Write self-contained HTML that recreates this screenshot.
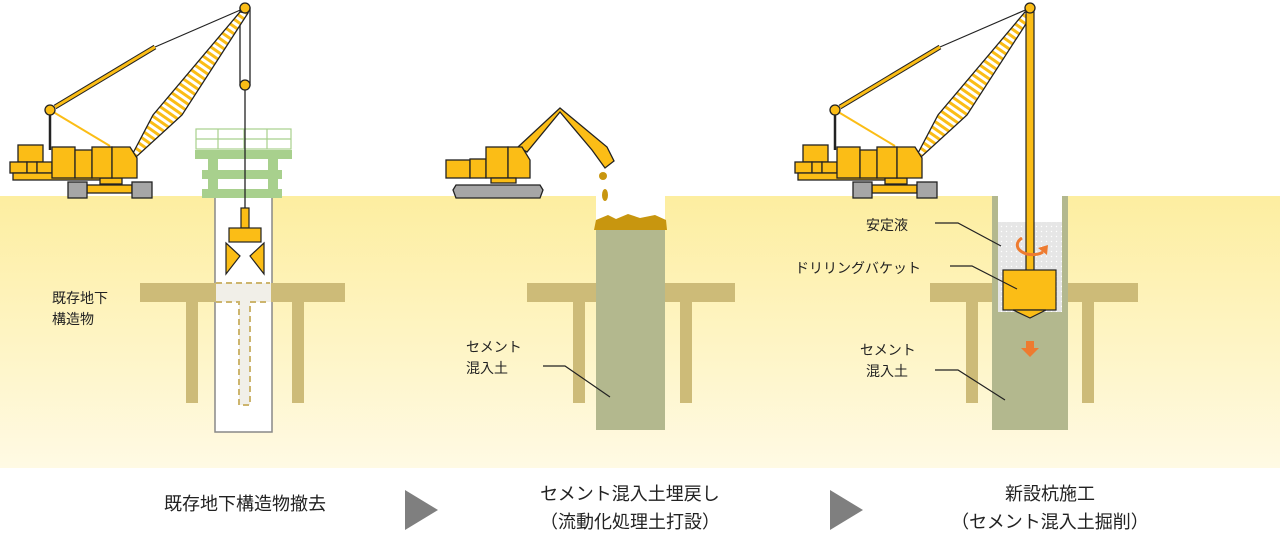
<!DOCTYPE html>
<html><head><meta charset="utf-8"><style>
html,body{margin:0;padding:0;background:#fff;width:1280px;height:546px;overflow:hidden}
svg{display:block}
text{font-family:"Liberation Sans","Noto Sans CJK JP",sans-serif;fill:#222}
</style></head><body>
<svg width="1280" height="546" viewBox="0 0 1280 546" xmlns="http://www.w3.org/2000/svg">
<defs>
<linearGradient id="gnd" x1="0" y1="0" x2="0" y2="1">
<stop offset="0" stop-color="#fdeea0"/><stop offset="1" stop-color="#fffae4"/>
</linearGradient>
<pattern id="str" width="6" height="6" patternUnits="userSpaceOnUse" patternTransform="rotate(35)">
<rect width="6" height="6" fill="#fff"/><rect width="6" height="3" fill="#fbbd16"/>
</pattern>
<pattern id="dots" width="5" height="5" patternUnits="userSpaceOnUse">
<rect width="5" height="5" fill="#e6e6e6"/><circle cx="1.5" cy="1.5" r="0.7" fill="#fff"/>
</pattern>
<g id="crane" stroke="#222" stroke-width="1.3">
<line x1="50" y1="110" x2="110" y2="146" stroke="#fbbd16" stroke-width="2"/>
<line x1="50" y1="110" x2="50" y2="150" stroke-width="2.5"/>
<line x1="155" y1="47" x2="245" y2="8" stroke-width="1.2"/>
<line x1="55" y1="107" x2="155" y2="47" stroke-width="5"/>
<line x1="55" y1="107" x2="155" y2="47" stroke="#fbbd16" stroke-width="3"/>
<polygon points="132,155 153,115 240,12 248,13 182,115 136,157" fill="url(#str)"/>
<circle cx="50" cy="110" r="5" fill="#fbbd16"/>
<g fill="#fbbd16">
<rect x="18" y="145" width="25" height="17"/>
<rect x="10" y="162" width="17" height="11"/><rect x="27" y="162" width="10" height="11"/><rect x="37" y="162" width="15" height="11"/>
<rect x="13" y="173" width="90" height="7"/>
<rect x="100" y="178" width="22" height="6"/>
<rect x="87" y="185" width="45" height="8"/>
<rect x="52" y="147" width="23" height="31"/><rect x="75" y="150" width="17" height="28"/><rect x="92" y="147" width="20" height="31"/>
<polygon points="112,147 130,147 137,158 137,178 112,178"/>
</g>
<g fill="#a6a6a6"><rect x="68" y="182" width="19" height="16"/><rect x="132" y="182" width="20" height="16"/></g>
</g>
</defs>
<rect x="0" y="196" width="1280" height="272" fill="url(#gnd)"/>

<!-- Panel 1 -->
<rect x="240" y="8" width="10" height="77" fill="#fff" stroke="#222" stroke-width="1.3"/>
<use href="#crane"/>
<circle cx="245" cy="8" r="5" fill="#fbbd16" stroke="#222" stroke-width="1.3"/>
<circle cx="245" cy="85" r="5" fill="#fbbd16" stroke="#222" stroke-width="1.3"/>
<rect x="215" y="196" width="57" height="236" fill="#fff" stroke="#888" stroke-width="1.5"/>
<g fill="#a8d08d">
<rect x="195" y="150" width="97" height="9"/><rect x="202" y="170" width="80" height="9"/><rect x="202" y="189" width="80" height="9"/>
<rect x="208" y="150" width="10" height="48"/><rect x="268" y="150" width="10" height="48"/>
</g>
<g stroke="#a8d08d" stroke-width="1.2" fill="none">
<rect x="196" y="129" width="95" height="20"/><line x1="196" y1="139" x2="291" y2="139"/>
<line x1="218" y1="129" x2="218" y2="149"/><line x1="244" y1="129" x2="244" y2="149"/><line x1="267" y1="129" x2="267" y2="149"/>
</g>
<line x1="245" y1="90" x2="245" y2="210" stroke="#222" stroke-width="1.3"/>
<rect x="140" y="283" width="205" height="19" fill="#cdbb78"/>
<rect x="186" y="302" width="12" height="101" fill="#cdbb78"/><rect x="292" y="302" width="12" height="101" fill="#cdbb78"/>
<rect x="216" y="283" width="55" height="19" fill="#f1efe8"/>
<rect x="239" y="302" width="11" height="103" fill="#f1efe8"/>
<path d="M216,283 H270 M216,302 H239 V405 H250 V302 H270" fill="none" stroke="#cdb56e" stroke-width="2" stroke-dasharray="6,4"/>
<g stroke="#222" stroke-width="1.2" fill="#fbbd16">
<rect x="241" y="208" width="8" height="20"/>
<rect x="229" y="228" width="32" height="14"/>
<polygon points="226,243 240,256 226,274"/><polygon points="264,243 250,256 264,274"/>
</g>
<text x="52" y="303" font-size="14">既存地下</text>
<text x="52" y="324" font-size="14">構造物</text>

<!-- Panel 2 -->
<rect x="527" y="283" width="208" height="19" fill="#cdbb78"/>
<rect x="573" y="302" width="12" height="101" fill="#cdbb78"/><rect x="680" y="302" width="12" height="101" fill="#cdbb78"/>
<rect x="596" y="196" width="69" height="26" fill="#fff"/>
<rect x="596" y="222" width="69" height="208" fill="#b3b88e"/>
<path d="M594,230 L596,220 L608,215 L616,219 L628,214 L640,218 L655,215 L666,220 L667,230 Z" fill="#c8960f"/>
<ellipse cx="603" cy="176" rx="4" ry="4" fill="#c8960f"/><ellipse cx="605" cy="195" rx="3" ry="6" fill="#c8960f"/>
<g stroke="#222" stroke-width="1.3" fill="#fbbd16">
<polygon points="518,147 560,108 607,147 614,161 605,168 592,150 560,112 527,152"/>
<rect x="446" y="160" width="24" height="18"/><rect x="470" y="159" width="16" height="19"/>
<rect x="486" y="147" width="22" height="31"/><polygon points="508,147 522,147 530,160 530,178 508,178"/>
<rect x="491" y="178" width="25" height="5"/>
</g>
<polygon points="456,185 540,185 543,190 540,198 456,198 453,190" fill="#a6a6a6" stroke="#222" stroke-width="1.3"/>
<text x="466" y="352" font-size="14">セメント</text>
<text x="466" y="373" font-size="14">混入土</text>
<polyline points="543,366 565,366 610,397" fill="none" stroke="#222" stroke-width="1.2"/>

<!-- Panel 3 -->
<use href="#crane" x="785"/>
<rect x="930" y="283" width="208" height="19" fill="#cdbb78"/>
<rect x="966" y="302" width="12" height="101" fill="#cdbb78"/><rect x="1082" y="302" width="12" height="101" fill="#cdbb78"/>
<rect x="992" y="196" width="76" height="234" fill="#b3b88e"/>
<rect x="998" y="196" width="64" height="26" fill="#fff"/>
<rect x="998" y="222" width="64" height="90" fill="url(#dots)"/>
<rect x="1026" y="12" width="8" height="260" fill="#fbbd16" stroke="#222" stroke-width="1.2"/>
<circle cx="1030" cy="8" r="5" fill="#fbbd16" stroke="#222" stroke-width="1.3"/>
<g stroke="#222" stroke-width="1.2" fill="#fbbd16">
<rect x="1003" y="270" width="53" height="40"/>
<polygon points="1013,310 1046,310 1030,318"/>
</g>
<path d="M1022,238 A11,7 0 1 0 1043,252" fill="none" stroke="#ee7b30" stroke-width="3"/>
<polygon points="1038,248 1048,245 1047,255" fill="#ee7b30"/>
<polygon points="1026,341 1034,341 1034,348 1039,348 1030,357 1021,348 1026,348" fill="#ee7b30"/>
<text x="866" y="230" font-size="14">安定液</text>
<polyline points="935,223 958,223 1001,246" fill="none" stroke="#222" stroke-width="1.2"/>
<text x="795" y="273" font-size="14">ドリリングバケット</text>
<polyline points="950,266 972,266 1017,289" fill="none" stroke="#222" stroke-width="1.2"/>
<text x="860" y="355" font-size="14">セメント</text>
<text x="866" y="376" font-size="14">混入土</text>
<polyline points="935,370 958,370 1005,400" fill="none" stroke="#222" stroke-width="1.2"/>

<!-- Captions -->
<text x="245" y="510" font-size="18" text-anchor="middle">既存地下構造物撤去</text>
<polygon points="405,490 438,510 405,530" fill="#7f7f7f"/>
<text x="630" y="500" font-size="18" text-anchor="middle">セメント混入土埋戻し</text>
<text x="630" y="528" font-size="18" text-anchor="middle">（流動化処理土打設）</text>
<polygon points="830,490 863,510 830,530" fill="#7f7f7f"/>
<text x="1050" y="500" font-size="18" text-anchor="middle">新設杭施工</text>
<text x="1050" y="528" font-size="18" text-anchor="middle">（セメント混入土掘削）</text>
</svg>
</body></html>
